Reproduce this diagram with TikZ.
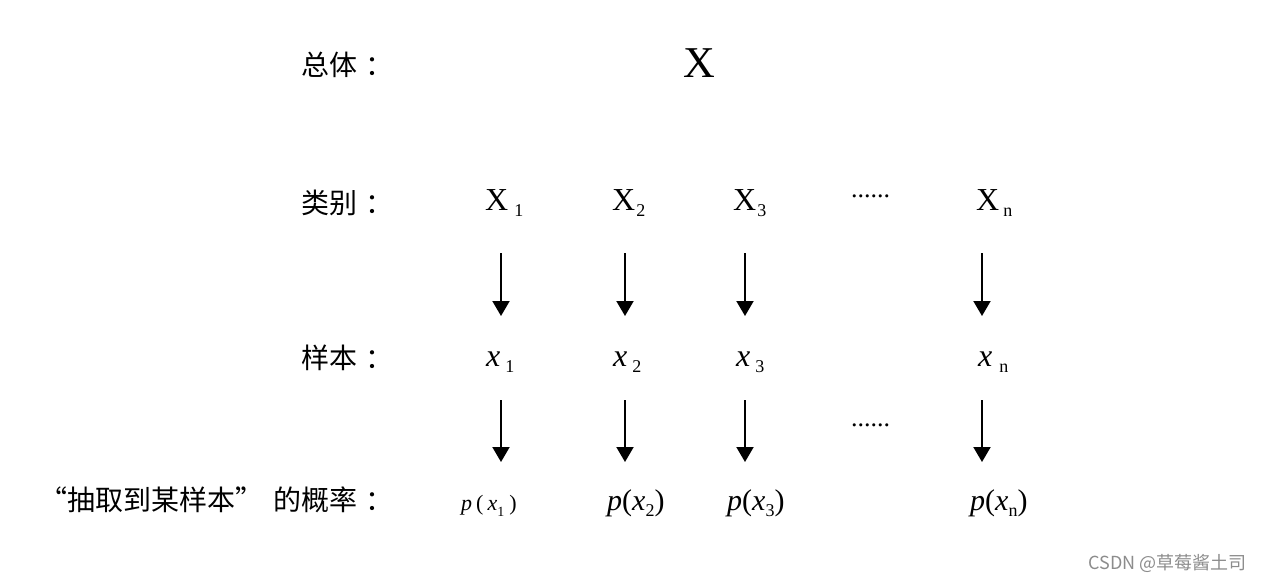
\documentclass[tikz,border=0pt]{standalone}
\usepackage{fontspec}
\setmainfont{Liberation Serif}
\newfontfamily\cjk{Noto Sans CJK SC}
\usetikzlibrary{arrows.meta}
% lowered subscript
\newcommand\lsub[2][18]{\raisebox{-6pt}{\fontsize{#1}{#1}\selectfont #2}}
% full-width colon, moved right
\newcommand\colonfw{\kern8pt：\kern-8pt}

\begin{document}
\begin{tikzpicture}[x=1pt, y=-1pt,
  rowlabel/.style={anchor=east, inner sep=0pt, font={\cjk\fontsize{28}{30}\selectfont}},
  sym/.style={anchor=base west, inner sep=0pt, font={\fontsize{32}{34}\selectfont}},
  dots/.style={anchor=base west, inner sep=0pt, font={\fontsize{26}{28}\selectfont}},
  arr/.style={line width=2pt, -{Triangle[width=17pt,length=15pt]}}]
  \useasboundingbox (0,0) rectangle (1261,583);
  % row labels
  \node[rowlabel] (lpop) at (386,65) {总体\colonfw};
  \node[rowlabel] (lcls) at (386,203) {类别\colonfw};
  \node[rowlabel] (lsmp) at (386,358) {样本\colonfw};
  \node[rowlabel] (lprb) at (386,500) {“抽取到某样本”\hspace{10pt}的概率\colonfw};
  % population
  \node[anchor=base, inner sep=0pt, font={\fontsize{44}{46}\selectfont}] (pop) at (699,78) {X};
  % columns
  \coordinate (c1) at (501,0);
  \coordinate (c2) at (625,0);
  \coordinate (c3) at (745,0);
  \coordinate (cn) at (982,0);
  % classes
  \node[sym] (X1) at (485,210) {X\hspace{6pt}\lsub{1}};
  \node[sym] (X2) at (612,210) {X\hspace{1pt}\lsub{2}};
  \node[sym] (X3) at (733,210) {X\hspace{1pt}\lsub{3}};
  \node[dots] (d1) at (851,197) {......};
  \node[sym] (Xn) at (976,210) {X\hspace{4pt}\lsub{n}};
  % samples
  \node[sym] (x1) at (486,366) {\textit{x}\hspace{5pt}\lsub{1}};
  \node[sym] (x2) at (613,366) {\textit{x}\hspace{5pt}\lsub{2}};
  \node[sym] (x3) at (736,366) {\textit{x}\hspace{5pt}\lsub{3}};
  \node[sym] (xn) at (978,366) {\textit{x}\hspace{7pt}\lsub{n}};
  \node[dots] (d2) at (851,426) {......};
  % probabilities
  \node[sym, font={\fontsize{22}{24}\selectfont}] (p1) at (461,510)
    {\textit{p}\hspace{4pt}(\hspace{4pt}\textit{x}\lsub[14]{1}\hspace{5pt})};
  \node[sym, font={\fontsize{30}{32}\selectfont}] (p2) at (607,510) {\textit{p}(\textit{x}\lsub[18]{2})};
  \node[sym, font={\fontsize{30}{32}\selectfont}] (p3) at (727,510) {\textit{p}(\textit{x}\lsub[18]{3})};
  \node[sym, font={\fontsize{30}{32}\selectfont}] (pn) at (970,510) {\textit{p}(\textit{x}\lsub[18]{n})};
  % arrows
  \draw[arr, shorten <=43pt, shorten >=50pt] (X1.base -| c1) -- (x1.base -| c1);
  \draw[arr, shorten <=43pt, shorten >=50pt] (X2.base -| c2) -- (x2.base -| c2);
  \draw[arr, shorten <=43pt, shorten >=50pt] (X3.base -| c3) -- (x3.base -| c3);
  \draw[arr, shorten <=43pt, shorten >=50pt] (Xn.base -| cn) -- (xn.base -| cn);
  \draw[arr, shorten <=34pt, shorten >=48pt] (x1.base -| c1) -- (p1.base -| c1);
  \draw[arr, shorten <=34pt, shorten >=48pt] (x2.base -| c2) -- (p2.base -| c2);
  \draw[arr, shorten <=34pt, shorten >=48pt] (x3.base -| c3) -- (p3.base -| c3);
  \draw[arr, shorten <=34pt, shorten >=48pt] (xn.base -| cn) -- (pn.base -| cn);
  % watermark
  \node[anchor=east, inner sep=0pt, text=black!45, font={\cjk\fontsize{18}{20}\selectfont}] (wm) at (1247,563) {CSDN @草莓酱土司};
\end{tikzpicture}
\end{document}
